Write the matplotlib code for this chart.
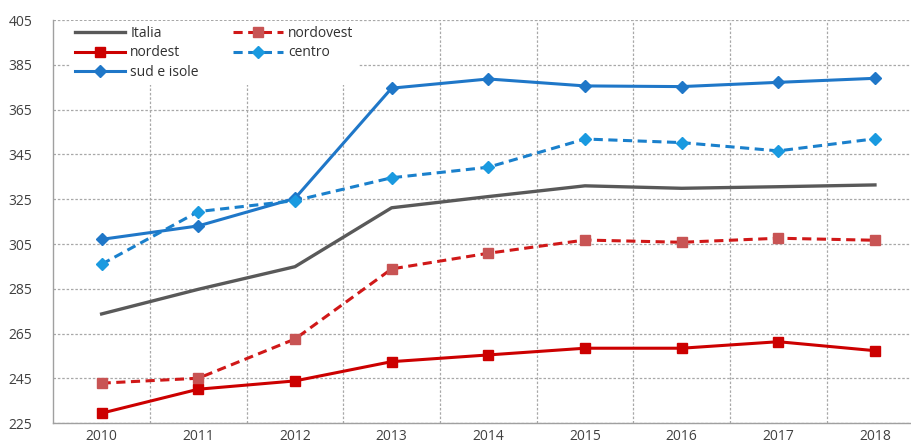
import numpy as np
import matplotlib
matplotlib.use('Agg')
import matplotlib.pyplot as plt

# Values per year
years = ['2010', '2011', '2012', '2013', '2014', '2015', '2016', '2017', '2018']
italia = [273.8, 284.8, 294.9, 321.2, 326.2, 331.0, 329.9, 330.6, 331.4]
nordovest = [242.9, 245.1, 262.6, 293.9, 300.9, 306.8, 305.8, 307.6, 306.7]
nordest = [229.5, 240.2, 243.9, 252.5, 255.5, 258.5, 258.5, 261.4, 257.4]
centro = [296.0, 319.5, 324.4, 334.6, 339.3, 351.9, 350.3, 346.6, 352.0]
sud_isole = [307.1, 313.1, 325.4, 374.6, 378.7, 375.6, 375.3, 377.2, 379.0]
yticks = [225, 245, 265, 285, 305, 325, 345, 365, 385, 405]

plt.rcParams['font.family'] = ['Open Sans', 'DejaVu Sans']

fig = plt.figure(figsize=(9.11, 4.46), dpi=100)
ax = fig.add_axes([0.0585, 0.051, 0.955, 0.904])

x = np.arange(len(years))

h_it, = ax.plot(x, italia, color='#595959', lw=2.4, label='Italia', zorder=3)
h_ne, = ax.plot(x, nordest, color='#cc0000', lw=2.2, marker='s', ms=7,
                label='nordest', zorder=3)
h_sud, = ax.plot(x, sud_isole, color='#1f77c8', lw=2.2, marker='D', ms=6,
                 label='sud e isole', zorder=3)
h_no, = ax.plot(x, nordovest, color='#d01818', lw=2.2, ls=(0, (3, 1.8)),
                marker='s', ms=7, mfc='#c85454', mec='#c85454',
                label='nordovest', zorder=3)
h_ce, = ax.plot(x, centro, color='#1a80cc', lw=2.2, ls=(0, (3, 1.8)),
                marker='D', ms=6, mfc='#1a9ae0', mec='#1a9ae0',
                label='centro', zorder=3)

ax.set_xlim(-0.5, len(years) - 0.5)
ax.set_ylim(225, 405)
ax.set_yticks(yticks)
ax.set_xticks(x)
ax.set_xticklabels(years)
ax.set_xticks(np.arange(0.5, len(years) - 1, 1), minor=True)

grid_kw = dict(color='#a8a8a8', lw=0.9, ls=(0, (2, 1.5)))
ax.grid(True, axis='y', which='major', **grid_kw)
ax.grid(True, axis='x', which='minor', **grid_kw)
ax.grid(False, axis='x', which='major')
ax.set_axisbelow(True)

for side in ['top', 'right']:
    ax.spines[side].set_visible(False)
for side in ['left', 'bottom']:
    ax.spines[side].set_color('#a0a0a0')
    ax.spines[side].set_linewidth(1.0)

ax.tick_params(axis='both', which='both', length=0, labelsize=10,
               labelcolor='#404040')
ax.tick_params(axis='y', pad=15)
ax.tick_params(axis='x', pad=4)

leg = ax.legend(handles=[h_it, h_ne, h_sud, h_no, h_ce], ncol=2,
                loc='upper left', bbox_to_anchor=(0.019, 1.0),
                frameon=True, fancybox=False, framealpha=1.0,
                edgecolor='white', facecolor='white',
                fontsize=10, handlelength=3.6, handletextpad=0.35,
                columnspacing=2.5, labelspacing=0.35, borderpad=0.3,
                borderaxespad=0.1)
leg.get_frame().set_linewidth(0)
for t in leg.get_texts():
    t.set_color('#303030')

fig.savefig('out.png', dpi=100)
